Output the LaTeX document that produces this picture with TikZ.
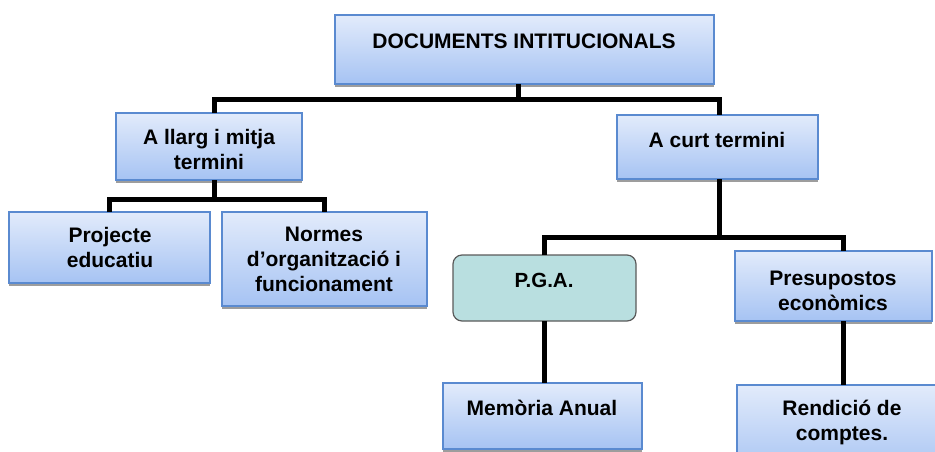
\documentclass[tikz,border=0pt]{standalone}
\usepackage{fontspec}
\setmainfont{Liberation Sans}
\usetikzlibrary{shadows,calc}
\definecolor{bxborder}{HTML}{5A8AD0}
\definecolor{bxtop}{HTML}{E2EBFB}
\definecolor{bxbot}{HTML}{A6C3F3}
\definecolor{pgafill}{HTML}{B9DFE0}
\definecolor{pgaborder}{HTML}{5A5A5A}
\tikzset{
  bx/.style={draw=bxborder, line width=1.2pt, top color=bxtop, bottom color=bxbot,
    inner sep=0pt, outer sep=0pt, anchor=north west,
    drop shadow={shadow xshift=0pt, shadow yshift=-3pt, opacity=0.55, fill=black!70}},
  pgabx/.style={draw=pgaborder, line width=1.2pt, fill=pgafill, rounded corners=9pt,
    inner sep=0pt, outer sep=0pt, anchor=north west},
  lbl/.style={font=\bfseries\fontsize{21}{25}\selectfont, align=center, text=black, inner sep=0pt},
  conn/.style={line width=5pt, draw=black}
}
\begin{document}
\begin{tikzpicture}[x=1pt,y=-1pt]
\useasboundingbox (0,0) rectangle (935,452);
\coordinate (b0) at (518,100);
\coordinate (b1) at (214,199);
\coordinate (b2) at (719,237);
% boxes
\node[bx, minimum width=379pt, minimum height=69pt] (top) at (335,15) {};
\node[bx, minimum width=186pt, minimum height=67pt] (llarg) at (116,113) {};
\node[bx, minimum width=201pt, minimum height=64pt] (curt) at (617,115) {};
\node[bx, minimum width=201pt, minimum height=71pt] (proj) at (9,212) {};
\node[bx, minimum width=205pt, minimum height=94pt] (norm) at (222,212) {};
\node[pgabx, minimum width=183pt, minimum height=66pt] (pga) at (453,255) {};
\node[bx, minimum width=197pt, minimum height=70pt] (pres) at (735,251) {};
\node[bx, minimum width=199pt, minimum height=66pt] (mem) at (443,383) {};
\node[bx, minimum width=215pt, minimum height=90pt] (rend) at (737,385) {};
% connectors
\draw[conn] (b0 |- top.south) -- (b0);
\draw[conn] (b1 |- llarg.north) |- (b0) -| (b2 |- curt.north);
\draw[conn] (b1 |- llarg.south) -- (b1);
\draw[conn] (proj.north) |- (b1) -| (norm.north);
\draw[conn] (b2 |- curt.south) -- (b2);
\draw[conn] (544,0 |- pga.north) |- (b2) -| (843,0 |- pres.north);
\draw[conn] (544,0 |- pga.south) -- (544,0 |- mem.north);
\draw[conn] (843,0 |- pres.south) -- (843,0 |- rend.north);
% labels
\node[lbl] (ttop) at (524,41) {DOCUMENTS INTITUCIONALS};
\node[lbl] (tllarg) at (209,149) {A llarg i mitja\\termini};
\node[lbl] (tcurt) at (717,140) {A curt termini};
\node[lbl] (tproj) at (110,247) {Projecte\\educatiu};
\node[lbl] (tnorm) at (324,259) {Normes\\d’organització i\\funcionament};
\node[lbl, font=\bfseries\fontsize{20.5}{24}\selectfont] (tpga) at (544,280) {P.G.A.};
\node[lbl] (tpres) at (833,291) {Presupostos\\econòmics};
\node[lbl] (tmem) at (542,408) {Memòria Anual};
\node[lbl] (trend) at (842,422) {Rendició de\\comptes.};
\end{tikzpicture}
\end{document}
